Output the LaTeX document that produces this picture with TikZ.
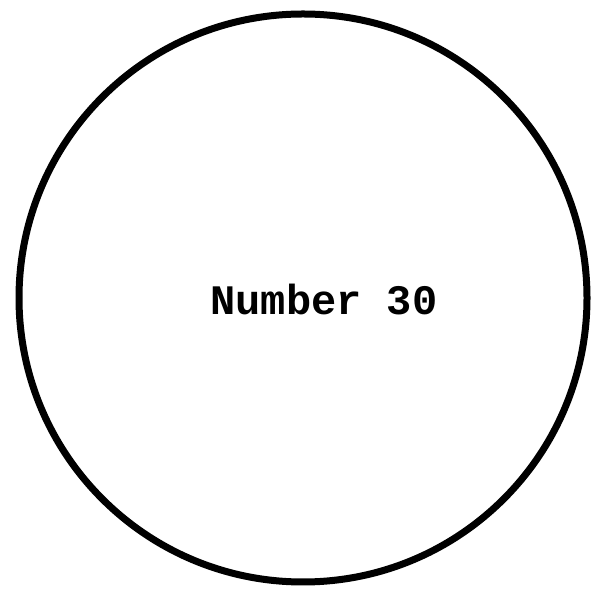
\documentclass[tikz,border=0pt]{standalone}
\usepackage{fontspec}
\newfontfamily\typefont{Liberation Mono}
\usetikzlibrary{positioning}

\begin{document}
\begin{tikzpicture}[x=1pt, y=1pt]
    \useasboundingbox (0,0) rectangle (591,591);
    \node[circle, draw, line width=7pt, minimum size=568pt, inner sep=0pt] (disc) at (303,293) {};
    \node[font=\typefont\bfseries\fontsize{42}{48}\selectfont, anchor=base, inner sep=0pt] (label) at (324,276) {Number 30};
  \end{tikzpicture}
\end{document}
